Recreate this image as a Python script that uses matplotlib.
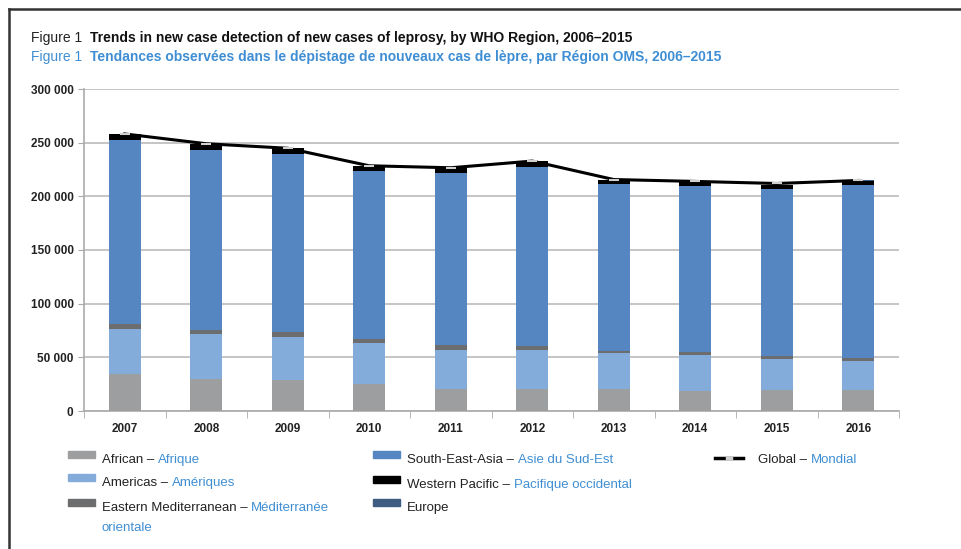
import matplotlib.pyplot as plt
import matplotlib.patches as patches
from matplotlib.lines import Line2D
import numpy as np

plt.rcParams['font.family'] = ['Liberation Sans', 'DejaVu Sans']

# Data: new case detection of leprosy by WHO region
years = ['2007', '2008', '2009', '2010', '2011', '2012', '2013', '2014', '2015', '2016']
african = [34468, 29814, 28935, 25345, 20213, 20599, 20911, 18597, 20004, 19384]
americas = [42135, 41891, 40474, 37740, 36832, 36178, 33084, 33789, 28806, 27356]
east_med = [4091, 3938, 4029, 4080, 4357, 4235, 1680, 2342, 2167, 2834]
se_asia = [171576, 167505, 166115, 156254, 160132, 166445, 155385, 154834, 156118, 161263]
west_pac = [5863, 5859, 5243, 5055, 5092, 5400, 4596, 4337, 3645, 3914]
europe = [0, 0, 0, 0, 0, 0, 0, 0, 18, 32]
global_total = [258133, 249007, 244796, 228474, 226626, 232857, 215656, 213899, 211973, 214783]

series = [african, americas, east_med, se_asia, west_pac, europe]
colors = ['#9c9e9f', '#84acdb', '#6b6d6f', '#5586c2', '#000000', '#3e5c82']
blue_txt = '#3f8ed3'

fig = plt.figure(figsize=(9.62, 5.49), dpi=100)
ax = fig.add_axes([84 / 962, 1 - 411 / 549, 815 / 962, 322 / 549])

x = np.arange(len(years))
bottom = np.zeros(len(years))
for vals, col in zip(series, colors):
    ax.bar(x, vals, width=0.39, bottom=bottom, color=col, zorder=3)
    bottom += np.array(vals)

ax.plot(x, global_total, color='black', linewidth=2.2, marker='_', markersize=7,
        markeredgecolor='#d0d0d0', markeredgewidth=1.5, zorder=4)

# Axes styling
ax.set_xlim(-0.5, len(years) - 0.5)
ax.set_ylim(0, 300000)
ax.set_yticks(np.arange(0, 300001, 50000))
ax.set_yticklabels([f'{int(v):,}'.replace(',', ' ') for v in np.arange(0, 300001, 50000)],
                   fontsize=8.5, fontweight='bold', color='#222222')
ax.set_xticks(x)
ax.set_xticklabels(years, fontsize=8.5, fontweight='bold', color='#222222')
ax.tick_params(axis='x', length=0, pad=9)
ax.tick_params(axis='y', length=4, color='#aaaaaa', pad=3.5)
ax.set_xticks(np.arange(-0.5, len(years)), minor=True)
ax.tick_params(axis='x', which='minor', length=5, color='#aaaaaa')
ax.grid(True, axis='y', color='#bbbbbb', linewidth=1.2, zorder=0)
for s in ['top', 'right']:
    ax.spines[s].set_visible(False)
ax.spines['left'].set_color('#aaaaaa')
ax.spines['bottom'].set_color('#aaaaaa')
ax.spines['left'].set_linewidth(1.2)
ax.spines['bottom'].set_linewidth(1.2)

# Frame (top and left edges only)
fig.add_artist(Line2D([9 / 962, 1], [1 - 9 / 549, 1 - 9 / 549], transform=fig.transFigure,
                      color='#333333', linewidth=1.8))
fig.add_artist(Line2D([9 / 962, 9 / 962], [1 - 9 / 549, 0], transform=fig.transFigure,
                      color='#333333', linewidth=1.8))


def two_part(xp, yp, first, second, c1, c2, w1='normal', w2='normal', size=9):
    t1 = fig.text(xp / 962, 1 - yp / 549, first, color=c1, fontweight=w1,
                  fontsize=size, va='center', ha='left')
    t2 = plt.annotate(second, xy=(1, 0.5), xycoords=t1, color=c2, fontweight=w2,
                      fontsize=size, va='center', ha='left')
    return t1, t2


# Titles
two_part(31, 38, 'Figure 1  ', 'Trends in new case detection of new cases of leprosy, by WHO Region, 2006\u20132015',
         '#222222', '#111111', 'normal', 'bold', 10)
two_part(31, 57, 'Figure 1  ', 'Tendances observ\u00e9es dans le d\u00e9pistage de nouveaux cas de l\u00e8pre, par R\u00e9gion OMS, 2006\u20132015',
         blue_txt, blue_txt, 'normal', 'bold', 10)

# Legend
legend_items = [
    (0, 68, 460, 'African \u2013 ', 'Afrique'),
    (1, 68, 483, 'Americas \u2013 ', 'Am\u00e9riques'),
    (2, 68, 508, 'Eastern Mediterranean \u2013 ', 'M\u00e9diterran\u00e9e'),
    (3, 373, 460, 'South-East-Asia \u2013 ', 'Asie du Sud-Est'),
    (4, 373, 485, 'Western Pacific \u2013 ', 'Pacifique occidental'),
    (5, 373, 508, 'Europe', ''),
]
for idx, lx, ly, en, fr in legend_items:
    fig.add_artist(patches.Rectangle((lx / 962, 1 - (ly - 2) / 549), 27 / 962, 7 / 549,
                                     transform=fig.transFigure, color=colors[idx]))
    two_part(lx + 34, ly, en, fr, '#222222', blue_txt, size=9.5)
fig.text(102 / 962, 1 - 528 / 549, 'orientale', color=blue_txt, fontsize=9.5, va='center')

fig.add_artist(Line2D([715 / 962, 743 / 962], [1 - 458 / 549, 1 - 458 / 549],
                      transform=fig.transFigure, color='black', linewidth=2.5))
fig.add_artist(Line2D([727 / 962, 731 / 962], [1 - 458 / 549, 1 - 458 / 549],
                      transform=fig.transFigure, color='#d0d0d0', linewidth=2.5))
two_part(758, 460, 'Global \u2013 ', 'Mondial', '#222222', blue_txt, size=9.5)

fig.savefig('out.png', dpi=100)
